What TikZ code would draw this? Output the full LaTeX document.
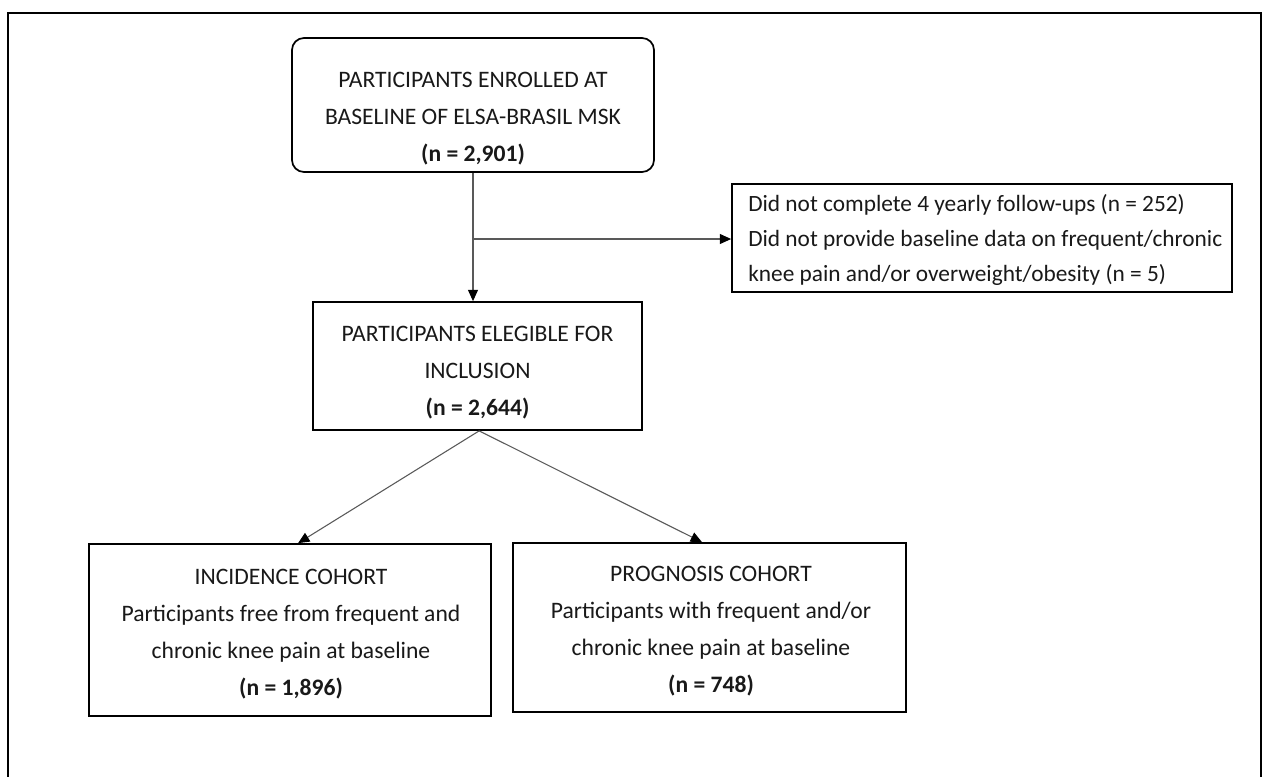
\documentclass[tikz,border=0pt]{standalone}
\usepackage{fontspec}
\setmainfont{Carlito}
\usetikzlibrary{arrows.meta,calc}
\begin{document}
\begin{tikzpicture}[x=0.75pt,y=-0.75pt,
  boxline/.style={draw=black,line width=1.3pt,inner sep=0pt,fill=none},
  txt/.style={inner sep=0pt,font=\fontsize{17.7}{27.8}\selectfont,align=center,text=black!90},
  txtl/.style={inner sep=0pt,font=\fontsize{17.5}{26.5}\selectfont,align=left,text=black!90},
  conn/.style={draw=black!65,line width=0.8pt},
  arr/.style={conn,-{Triangle[length=8.5pt,width=7.5pt,fill=black,color=black]}},
  frameline/.style={draw=black,line width=1.6pt}]
\useasboundingbox (0,0) rectangle (1267,776);
\fill[white] (0,0) rectangle (1267,776);
% outer frame (open at the bottom, cut by the page)
\draw[frameline] (8,800) -- (8,13) -- (1261,13) -- (1261,800);

% boxes
\node[boxline,rounded corners=9pt,minimum width=271.5pt,minimum height=100.5pt] (b1) at (473,105) {};
\node[boxline,minimum width=375pt,minimum height=81pt] (b3) at (982,238) {};
\node[boxline,minimum width=246.75pt,minimum height=96pt] (b2) at (477.5,366) {};
\node[boxline,minimum width=301.5pt,minimum height=129pt] (b4) at (290,630) {};
\node[boxline,minimum width=294.75pt,minimum height=126.75pt] (b5) at (709.5,627.5) {};

% texts
\node[txt] (t1) at (473,119) {PARTICIPANTS ENROLLED AT\\BASELINE OF ELSA-BRASIL MSK\\\textbf{(n = 2,901)}};
\node[txt] (t2) at (477.5,373) {PARTICIPANTS ELEGIBLE FOR\\INCLUSION\\\textbf{(n = 2,644)}};
\node[txtl,anchor=west] (t3) at (748,240) {Did not complete 4 yearly follow-ups (n = 252)\\Did not provide baseline data on frequent/chronic\\knee pain and/or overweight/obesity (n = 5)};
\node[txt] (t4) at (291,634) {INCIDENCE COHORT\\Participants free from frequent and\\chronic knee pain at baseline\\\textbf{(n = 1,896)}};
\node[txt] (t5) at (711,631) {PROGNOSIS COHORT\\Participants with frequent and/or\\chronic knee pain at baseline\\\textbf{(n = 748)}};

% connectors
\draw[arr] (b1.south) -- (b1.south |- b2.north);
\coordinate (j) at (473,239);
\draw[arr] (j) -- (j -| b3.west);
\coordinate (apex) at ($(b2.south west)!0.505!(b2.south east)$);
\draw[arr] (apex) -- ($(b4.north west)!0.52!(b4.north east)$);
\draw[arr] (apex) -- ($(b5.north west)!0.481!(b5.north east)$);
\end{tikzpicture}
\end{document}
